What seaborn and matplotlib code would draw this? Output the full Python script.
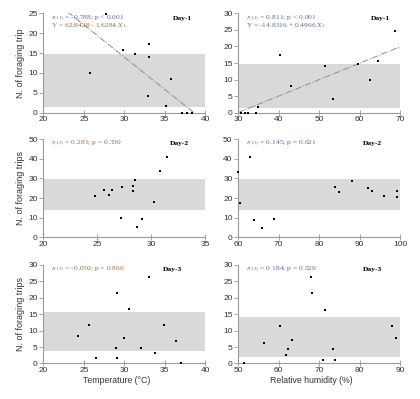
import numpy as np
import matplotlib
matplotlib.use("Agg")
import matplotlib.pyplot as plt
import seaborn as sns

# Day-1
temp_d1 = [25.8, 27.7, 29.8, 31.3, 33.0, 33.1, 32.9, 35.7, 35.1, 37.1, 37.7, 38.4]
trips_d1_t = [10.0, 24.8, 15.8, 14.9, 17.4, 14.1, 4.2, 8.4, 1.7, 0, 0, 0]
rh_d1 = [30.8, 31.6, 32.5, 34.5, 34.9, 40.3, 43.0, 51.4, 53.5, 59.5, 62.6, 64.6, 68.8]
trips_d1_h = [0, 0, 0, 0, 1.7, 17.3, 8.2, 14.0, 4.1, 14.8, 9.9, 15.7, 24.8]

# Day-2
temp_d2 = [24.8, 25.65, 26.1, 26.4, 27.25, 27.2, 28.27, 28.27, 28.45, 29.1, 28.7, 30.2, 30.8, 31.45]
trips_d2_t = [21.1, 24.1, 21.6, 24.1, 25.5, 10.0, 26.2, 23.6, 29.2, 9.2, 5.3, 18.0, 33.7, 41.0]
rh_d2 = [59.9, 60.4, 63.0, 63.9, 65.9, 68.9, 84.0, 84.9, 88.1, 92.1, 93.0, 96.1, 99.2, 99.2]
trips_d2_h = [33.5, 17.7, 40.8, 8.7, 4.6, 9.3, 25.8, 23.3, 28.9, 25.2, 23.8, 21.2, 23.8, 20.7]

# Day-3
temp_d3 = [24.3, 25.7, 26.45, 29.1, 28.95, 29.15, 29.95, 30.55, 32.05, 33.05, 33.8, 34.9, 36.35, 37.0]
trips_d3_t = [8.4, 11.7, 1.6, 21.5, 4.8, 1.6, 7.7, 16.6, 4.8, 26.4, 3.2, 11.7, 6.7, 0]
rh_d3 = [51.4, 56.4, 60.4, 61.9, 62.4, 63.4, 67.9, 68.3, 71.4, 70.9, 73.5, 73.9, 87.9, 88.9]
trips_d3_h = [0, 6.3, 11.4, 2.6, 4.3, 7.3, 26.3, 21.4, 16.4, 1.1, 4.3, 1.1, 11.4, 7.9]

# shaded bands (low, high)
bands = [(1.5, 14.9), (1.5, 14.8), (14.0, 29.8), (14.0, 29.8), (3.7, 15.6), (2.1, 14.0)]

# regression lines (intercept, slope) for day-1
reg_t = (62.8428, -1.6284)
reg_h = (-14.8316, 0.4966)

stats = [
    [r"$r_{(11)}$ = -0.788; p < 0.001", r"Y = 62.8428 - 1.6284 $X_1$"],
    [r"$r_{(11)}$ = 0.811; p < 0.001", r"Y = -14.8316 + 0.4966 $X_1$"],
    [r"$r_{(13)}$ = 0.281; p = 0.330"],
    [r"$r_{(13)}$ = 0.145; p = 0.621"],
    [r"$r_{(13)}$ = -0.050; p = 0.866"],
    [r"$r_{(13)}$ = 0.184; p = 0.529"],
]
days = ["Day-1", "Day-1", "Day-2", "Day-2", "Day-3", "Day-3"]

sns.set_style("ticks")
plt.rcParams['font.family'] = ['Liberation Sans', 'DejaVu Sans']
plt.rcParams['mathtext.fontset'] = 'stix'

panels = [
    dict(x=temp_d1, y=trips_d1_t, xlim=(20, 40), xstep=5, ylim=(0, 25), ystep=5, reg=reg_t),
    dict(x=rh_d1, y=trips_d1_h, xlim=(30, 70), xstep=10, ylim=(0, 30), ystep=5, reg=reg_h),
    dict(x=temp_d2, y=trips_d2_t, xlim=(20, 35), xstep=5, ylim=(0, 50), ystep=10, reg=None),
    dict(x=rh_d2, y=trips_d2_h, xlim=(60, 100), xstep=10, ylim=(0, 50), ystep=10, reg=None),
    dict(x=temp_d3, y=trips_d3_t, xlim=(20, 40), xstep=5, ylim=(0, 30), ystep=5, reg=None),
    dict(x=rh_d3, y=trips_d3_h, xlim=(50, 90), xstep=10, ylim=(0, 30), ystep=5, reg=None),
]

ylabels = ["N. of foraging trip", None, "N. of foraging trips", None, "N. of foraging trips", None]
xlabels = [None, None, None, None, "Temperature (°C)", "Relative humidity (%)"]
day_x = [0.92, 0.94, 0.90, 0.89, 0.855, 0.89]
text_colors = [["#5c6a9c", "#a0683a"], ["#5c6a9c", "#5c6a9c"], ["#9a6a45"], ["#5c6a9c"],
               ["#9a6a45"], ["#5c6a9c"]]

lefts = [0.103, 0.567]
bottoms = [0.7175, 0.4053, 0.089]
heights = [0.249, 0.2456, 0.247]
width = 0.386

serif = ['Liberation Serif', 'DejaVu Serif']
spine_col = "#9a9a9a"

fig = plt.figure(figsize=(4.2, 3.99), dpi=100)

for i, p in enumerate(panels):
    row, col = divmod(i, 2)
    ax = fig.add_axes([lefts[col], bottoms[row], width, heights[row]])
    ax.axhspan(bands[i][0], bands[i][1], color="#d9d9d9", lw=0, zorder=0)
    if p['reg'] is not None:
        xs = np.linspace(p['xlim'][0], p['xlim'][1], 100)
        ax.plot(xs, p['reg'][0] + p['reg'][1] * xs, ls='-.', color="#8c8c8c", lw=0.7, zorder=1)
    sns.scatterplot(x=p['x'], y=p['y'], ax=ax, marker='s', s=3, color='black',
                    linewidth=0, clip_on=False, zorder=3)
    ax.set_xlim(p['xlim'])
    ax.set_ylim(p['ylim'])
    ax.set_xticks(np.arange(p['xlim'][0], p['xlim'][1] + 0.1, p['xstep']))
    ax.set_yticks(np.arange(p['ylim'][0], p['ylim'][1] + 0.1, p['ystep']))
    sns.despine(ax=ax)
    for s in ['left', 'bottom']:
        ax.spines[s].set_color(spine_col)
        ax.spines[s].set_linewidth(0.8)
    ax.tick_params(axis='y', direction='out', length=3, width=0.6, color=spine_col,
                   labelsize=6, labelcolor="#333333", pad=1)
    ax.tick_params(axis='x', direction='inout', length=4, width=0.6, color=spine_col,
                   labelsize=6, labelcolor="#333333", pad=0.5)
    ax.set_xlabel("")
    ax.set_ylabel("")
    if ylabels[i]:
        ax.set_ylabel(ylabels[i], fontsize=6.5, color="#333333")
        ax.yaxis.set_label_coords(-0.115, 0.5)
    if xlabels[i]:
        ax.set_xlabel(xlabels[i], fontsize=6.3, color="#333333")
        ax.xaxis.set_label_coords(0.45, -0.125)

    ytop = 0.953
    for k, line in enumerate(stats[i]):
        ax.text(0.05, ytop - k * 0.08, line, transform=ax.transAxes, fontsize=5.4,
                family=serif, color=text_colors[i][k], va='center', ha='left')
    ax.text(day_x[i], ytop, days[i], transform=ax.transAxes, fontsize=5.4,
            family=serif, fontweight='bold', color='black', va='center', ha='right')

fig.savefig("out.png", dpi=100)
